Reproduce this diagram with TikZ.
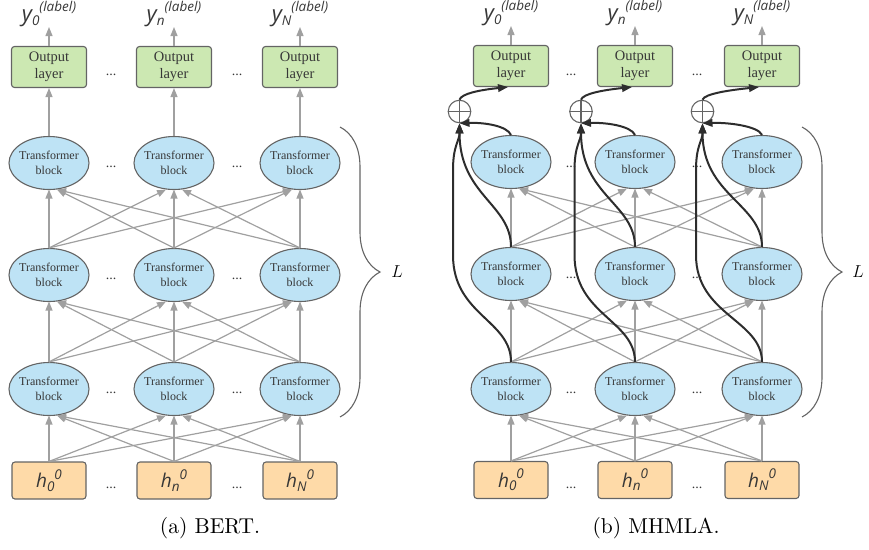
\documentclass[tikz,border=0pt]{standalone}
\usepackage{fontspec}
\newfontfamily\boxfont{Liberation Serif}
\newfontfamily\labfont{Open Sans}
\newfontfamily\capfont{lmroman10-regular}[Extension=.otf]
\usetikzlibrary{arrows.meta,decorations.pathreplacing,calc,shapes.geometric}
\definecolor{outgreen}{RGB}{204,232,178}
\definecolor{tblue}{RGB}{190,227,245}
\definecolor{horange}{RGB}{254,218,168}
\definecolor{bordergray}{RGB}{100,100,100}
\definecolor{gline}{RGB}{160,160,160}
\definecolor{dark}{RGB}{45,45,45}
\definecolor{txt}{RGB}{55,55,55}
\newcommand{\mylab}[3]{{\labfont\itshape #1\raisebox{-0.18em}{\fontsize{13.5}{13.5}\selectfont #2}\raisebox{0.45em}{\fontsize{13.5}{13.5}\selectfont #3}}}
\tikzset{
  outbox/.style={draw=bordergray, fill=outgreen, rounded corners=3pt, line width=1.1pt,
    minimum width=75pt, minimum height=41pt, inner sep=0pt, align=center, text=txt,
    font=\boxfont\fontsize{14.5}{17.5}\selectfont},
  tblock/.style={ellipse, draw=bordergray, fill=tblue, line width=1.1pt,
    minimum width=80pt, minimum height=53pt, inner sep=-4pt, align=center, text=txt,
    font=\boxfont\fontsize{12}{14.5}\selectfont},
  hbox/.style={draw=bordergray, fill=horange, rounded corners=3pt, line width=1.1pt,
    minimum width=74pt, minimum height=37pt, inner sep=0pt, text=txt,
    font=\fontsize{19}{19}\selectfont},
  lab/.style={inner sep=0pt, anchor=south, text=txt, font=\fontsize{22}{22}\selectfont},
  dots/.style={inner sep=0pt, text=txt, font=\boxfont\fontsize{14}{14}\selectfont},
  garrow/.style={draw=gline, line width=1.2pt, -{Triangle[length=9pt,width=7pt]}},
  barrow/.style={draw=dark, line width=2pt, -{Triangle[length=10pt,width=7.5pt]}},
  oplusnode/.style={circle, draw=bordergray, line width=1.1pt, minimum size=22.5pt, inner sep=0pt},
  bracestyle/.style={draw=bordergray, line width=1.1pt, decorate, decoration={brace, amplitude=40pt}},
  captext/.style={inner sep=0pt, font=\capfont\fontsize{21.5}{22}\selectfont},
}
\begin{document}
\begin{tikzpicture}[x=1pt,y=-1pt]
\useasboundingbox (0,0) rectangle (869,549);
% ---------------- panel (a) ----------------
\foreach \i/\x/\s in {0/49/0,1/174/n,2/300/N}{
  \node[lab] (al\i) at (\x,27) {\mylab{y}{\s}{(label)}};
  \node[outbox] (ao\i) at (\x,67) {Output\\layer};
  \node[tblock] (at\i) at (\x,163) {Transformer\\block};
  \node[tblock] (am\i) at (\x,275) {Transformer\\block};
  \node[tblock] (ab\i) at (\x,389) {Transformer\\block};
  \node[hbox] (ah\i) at (\x,480.5) {\mylab{h}{\s}{0}};
  \draw[garrow] (ao\i.north) -- (al\i.south);
  \draw[garrow] (at\i.north) -- (ao\i.south);
}
\foreach \d/\dx in {1/111,2/237}{
  \node[dots] (ado\d) at (\dx,75) {...};
  \node[dots] (adt\d) at (\dx,167) {...};
  \node[dots] (adm\d) at (\dx,279) {...};
  \node[dots] (adb\d) at (\dx,393) {...};
  \node[dots] (adh\d) at (\dx,488) {...};
}
\foreach \lo/\up in {ah/ab,ab/am,am/at}{
  \foreach \i in {0,1,2}{
    \foreach \j in {0,1,2}{
      \pgfmathsetmacro\off{8*sign(\i-\j)}
      \draw[garrow] (\lo\i.north) -- ($(\up\j.south)+(\off,-0.5)$);
    }
  }
}
\coordinate (abr1) at (340,127);
\coordinate (abr2) at (340,417);
\draw[bracestyle] (abr1) -- (abr2);
\node[inner sep=0pt, font=\fontsize{17}{17}\selectfont] (aL) at (397,272) {$L$};
\node[captext] (acap) at (210,528) {(a) BERT.};
% ---------------- panel (b) ----------------
\foreach \i/\x/\s in {0/511/0,1/635/n,2/762/N}{
  \node[lab] (bl\i) at (\x,26) {\mylab{y}{\s}{(label)}};
  \node[outbox] (bo\i) at (\x,66) {Output\\layer};
  \node[tblock] (bt\i) at (\x,162) {Transformer\\block};
  \node[tblock] (bm\i) at (\x,274) {Transformer\\block};
  \node[tblock] (bb\i) at (\x,389) {Transformer\\block};
  \node[hbox] (bh\i) at (\x,480) {\mylab{h}{\s}{0}};
  \draw[garrow] (bo\i.north) -- (bl\i.south);
}
\foreach \d/\dx in {1/571,2/697}{
  \node[dots] (bdo\d) at (\dx,75) {...};
  \node[dots] (bdt\d) at (\dx,167) {...};
  \node[dots] (bdm\d) at (\dx,278) {...};
  \node[dots] (bdb\d) at (\dx,393) {...};
  \node[dots] (bdh\d) at (\dx,488) {...};
}
\foreach \lo/\up in {bh/bb,bb/bm,bm/bt}{
  \foreach \i in {0,1,2}{
    \foreach \j in {0,1,2}{
      \pgfmathsetmacro\off{8*sign(\i-\j)}
      \draw[garrow] (\lo\i.north) -- ($(\up\j.south)+(\off,-0.5)$);
    }
  }
}
% oplus nodes and residual paths
\foreach \i/\x in {0/459.5,1/581,2/702.5}{
  \node[oplusnode] (bp\i) at (\x,111.5) {};
  \draw[draw=bordergray, line width=1.1pt] (bp\i.north) -- (bp\i.south) (bp\i.west) -- (bp\i.east);
}
\foreach \i/\x/\px in {0/511/459.5,1/635/581,2/762/702.5}{
  % from top block
  \draw[barrow] (bt\i.north) .. controls ($(bt\i.north)+(-4,-9)$) and ($(bp\i.south)+(25,-1)$) .. (bp\i.south);
  % from middle block
  \draw[barrow] (bm\i.north) .. controls ($(bm\i.north)+(0,-43)$) and ($(bp\i.south)+(0,72)$) .. (bp\i.south);
  % from bottom block
  \draw[barrow] (bb\i.north) .. controls ($(bb\i.north)+(0,-42)$) and (\px-6.5,315) .. (\px-6.5,255)
     -- (\px-6.5,170) .. controls (\px-6.5,145) and ($(bp\i.south)+(0,18)$) .. (bp\i.south);
  % to output layer
  \draw[barrow] (bp\i.north) .. controls ($(bp\i.north)+(2,-6)$) and ($(bo\i.south)+(-32,3)$) .. ($(bo\i.south)+(-3,0)$);
}
\coordinate (bbr1) at (802,127);
\coordinate (bbr2) at (802,417);
\draw[bracestyle] (bbr1) -- (bbr2);
\node[inner sep=0pt, font=\fontsize{17}{17}\selectfont] (bL) at (858,272) {$L$};
\node[captext] (bcap) at (656,528) {(b) MHMLA.};
\end{tikzpicture}
\end{document}
